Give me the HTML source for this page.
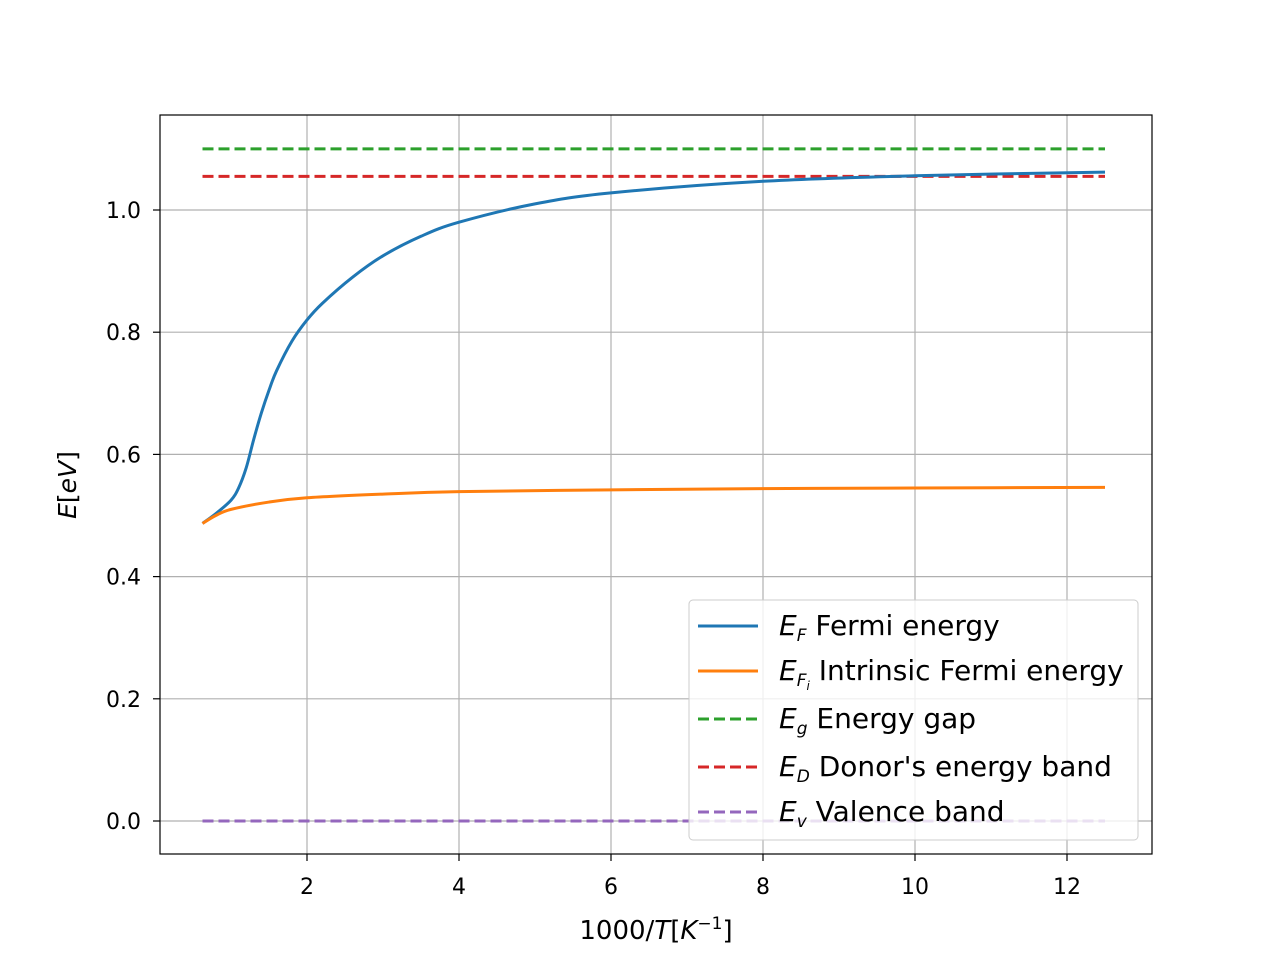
<!DOCTYPE html>
<html><head><meta charset="utf-8"><style>
body{margin:0;background:#fff}
text{font-family:"DejaVu Sans","Liberation Sans",sans-serif;fill:#000}
</style></head><body>
<svg id="chart" width="1280" height="960">
<g id="grid"></g>
<g id="series"></g>
<rect x="160" y="115" width="992" height="739" fill="none" stroke="#000" stroke-width="1.2"/>
<g id="ticks"></g>
<text x="656" y="939" font-size="26" text-anchor="middle">1000/<tspan font-style="italic">T</tspan>[<tspan font-style="italic">K</tspan><tspan font-size="17" dy="-10">−1</tspan><tspan dy="10">]</tspan></text>
<text transform="translate(76,485) rotate(-90)" font-size="25" text-anchor="middle" font-style="italic">E<tspan font-style="normal">[</tspan>eV<tspan font-style="normal">]</tspan></text>
<g>
<rect x="689" y="600" width="449" height="240" rx="4" fill="#fff" fill-opacity="0.8" stroke="#ccc"/>
<g><line x1="698" y1="626" x2="758" y2="626" stroke="#1f77b4" stroke-width="3"/><text x="779" y="635" font-size="28"><tspan font-style="italic">E</tspan><tspan font-size="17" font-style="italic" dy="6">F</tspan><tspan dy="-6"> Fermi energy</tspan></text></g>
<g><line x1="698" y1="671" x2="758" y2="671" stroke="#ff7f0e" stroke-width="3"/><text x="779" y="680" font-size="28"><tspan font-style="italic">E</tspan><tspan font-size="17" font-style="italic" dy="6">F</tspan><tspan font-size="12" font-style="italic" dy="4">i</tspan><tspan dy="-10"> Intrinsic Fermi energy</tspan></text></g>
<g><line x1="698" y1="719" x2="758" y2="719" stroke="#2ca02c" stroke-width="3" stroke-dasharray="11,5"/><text x="779" y="728" font-size="28"><tspan font-style="italic">E</tspan><tspan font-size="17" font-style="italic" dy="6">g</tspan><tspan dy="-6"> Energy gap</tspan></text></g>
<g><line x1="698" y1="767" x2="758" y2="767" stroke="#d62728" stroke-width="3" stroke-dasharray="11,5"/><text x="779" y="776" font-size="28"><tspan font-style="italic">E</tspan><tspan font-size="17" font-style="italic" dy="6">D</tspan><tspan dy="-6"> Donor's energy band</tspan></text></g>
<g><line x1="698" y1="812" x2="758" y2="812" stroke="#9467bd" stroke-width="3" stroke-dasharray="11,5"/><text x="779" y="821" font-size="28"><tspan font-style="italic">E</tspan><tspan font-size="17" font-style="italic" dy="6">v</tspan><tspan dy="-6"> Valence band</tspan></text></g>
</g>
</svg>
<script>
const xTicks=[2,4,6,8,10,12];
const yTicks=[0.0,0.2,0.4,0.6,0.8,1.0];
const fermiX=[0.625,0.8,1.0,1.1,1.2,1.3,1.4,1.5,1.6,1.8,2,2.2,2.6,3,3.5,4,5,6,8,10,12.5];
const fermiY=[0.487,0.503,0.525,0.545,0.578,0.625,0.668,0.705,0.737,0.785,0.820,0.847,0.890,0.925,0.957,0.980,1.010,1.028,1.047,1.056,1.062];
const intrX=[0.625,0.8,1.0,1.5,2,3,4,6,8,10,12.5];
const intrY=[0.487,0.500,0.510,0.522,0.529,0.535,0.539,0.542,0.544,0.545,0.546];
const gapY=1.1, donorY=1.055, valY=0.0, xMin=0.625, xMax=12.5;
const sx=v=>155+76*v, sy=v=>821-611*v;
const NS='http://www.w3.org/2000/svg';
function mk(tag,attrs,parent){const e=document.createElementNS(NS,tag);for(const k in attrs)e.setAttribute(k,attrs[k]);parent.appendChild(e);return e;}
const grid=document.getElementById('grid'),ticks=document.getElementById('ticks'),ser=document.getElementById('series');
xTicks.forEach(t=>{
 const g=mk('line',{x1:sx(t),x2:sx(t),y1:115,y2:854,stroke:'#b0b0b0','stroke-width':1.2},grid);
 
 
 const tk=mk('line',{x1:sx(t),x2:sx(t),y1:854,y2:861,stroke:'#000','stroke-width':1.2},ticks);
 
 
 const tx=mk('text',{x:sx(t),y:894,'font-size':22,'text-anchor':'middle'},ticks);tx.textContent=t;
 
 
});
yTicks.forEach(t=>{
 const g=mk('line',{x1:160,x2:1152,y1:sy(t),y2:sy(t),stroke:'#b0b0b0','stroke-width':1.2},grid);
 
 
 const tk=mk('line',{x1:153,x2:160,y1:sy(t),y2:sy(t),stroke:'#000','stroke-width':1.2},ticks);
 
 
 const tx=mk('text',{x:141,y:sy(t)+8,'font-size':22,'text-anchor':'end'},ticks);tx.textContent=t.toFixed(1);
 
 
});
function smooth(xs,ys){
 const p=xs.map((x,i)=>[sx(x),sy(ys[i])]);let d='M'+p[0][0]+','+p[0][1];
 for(let i=0;i<p.length-1;i++){const p0=p[Math.max(i-1,0)],p1=p[i],p2=p[i+1],p3=p[Math.min(i+2,p.length-1)];
  d+=' C'+(p1[0]+(p2[0]-p0[0])/6)+','+(p1[1]+(p2[1]-p0[1])/6)+' '+(p2[0]-(p3[0]-p1[0])/6)+','+(p2[1]-(p3[1]-p1[1])/6)+' '+p2[0]+','+p2[1];}
 return d;}
function hline(y,c,name){const l=mk('line',{x1:sx(xMin),x2:sx(xMax),y1:sy(y),y2:sy(y),stroke:c,'stroke-width':3,'stroke-dasharray':'11,5'},ser);
 
 }
hline(gapY,'#2ca02c','energy-gap-line');
hline(donorY,'#d62728','donor-band-line');
hline(valY,'#9467bd','valence-band-line');
const f=mk('path',{d:smooth(fermiX,fermiY),fill:'none',stroke:'#1f77b4','stroke-width':3},ser);


const ii=mk('path',{d:smooth(intrX,intrY),fill:'none',stroke:'#ff7f0e','stroke-width':3},ser);


</script>
</body></html>
